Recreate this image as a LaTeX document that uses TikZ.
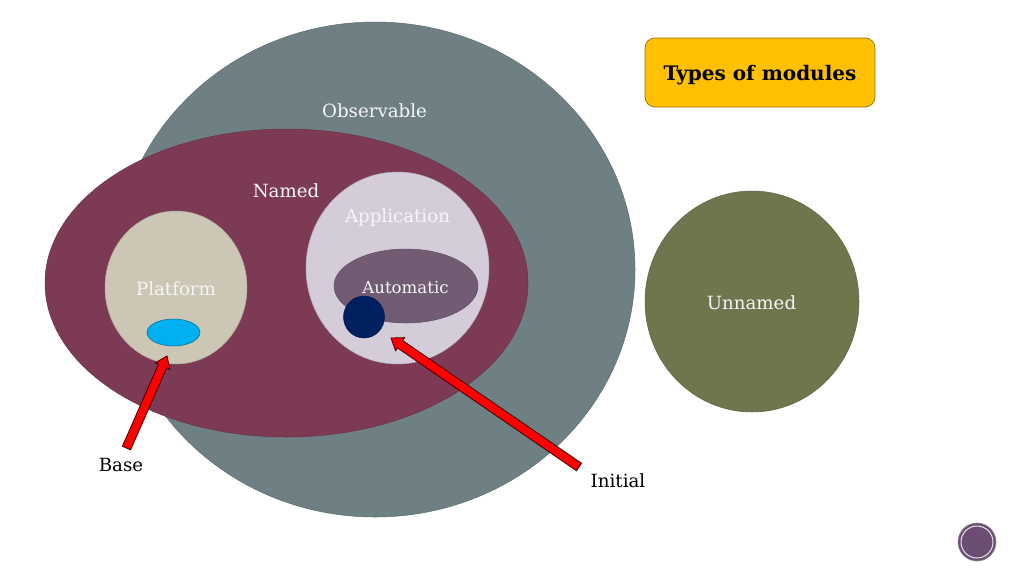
\documentclass[tikz,border=0pt]{standalone}
\usepackage{fontspec}
\setmainfont{DejaVu Serif}
\usetikzlibrary{shapes.geometric,calc}
\definecolor{obscol}{HTML}{6E8083}
\definecolor{namedcol}{HTML}{7C3A55}
\definecolor{platcol}{HTML}{CCC6B5}
\definecolor{bluecol}{HTML}{00B0F0}
\definecolor{appcol}{HTML}{D4CDD9}
\definecolor{autocol}{HTML}{715C74}
\definecolor{navycol}{HTML}{002060}
\definecolor{unnamedcol}{HTML}{6E764E}
\definecolor{boxcol}{HTML}{FFC000}
\definecolor{logocol}{HTML}{6B4E71}
\tikzset{
  blob/.style={ellipse,inner sep=0pt,draw=#1!85!black,line width=.5pt,fill=#1},
  whitelabel/.style={text=white!96!black,font=\fontsize{18.2}{21}\selectfont,inner sep=0pt},
  blacklabel/.style={text=black,font=\fontsize{18.2}{21}\selectfont,inner sep=0pt},
}
\newcommand{\blockarrow}[2]{%
  \filldraw[fill=red,draw=black!75!red,line width=.8pt,line join=miter]
    ($(#1)!4.5pt!90:(#2)$) --
    ($($(#2)!11pt!(#1)$)!4.5pt!90:(#2)$) --
    ($($(#2)!11pt!(#1)$)!8pt!90:(#2)$) --
    (#2) --
    ($($(#2)!11pt!(#1)$)!8pt!-90:(#2)$) --
    ($($(#2)!11pt!(#1)$)!4.5pt!-90:(#2)$) --
    ($(#1)!4.5pt!-90:(#2)$) -- cycle;}
\begin{document}
\begin{tikzpicture}[x=1pt,y=-1pt]
\useasboundingbox (0,0) rectangle (1024,576);
\fill[white] (0,0) rectangle (1024,576);
\node[blob=obscol,minimum width=520pt,minimum height=495pt] (obs) at (375,269.5) {};
\node[blob=namedcol,minimum width=483pt,minimum height=308pt] (named) at (286.5,283) {};
\node[blob=platcol,minimum width=142pt,minimum height=153pt] (plat) at (176,287.5) {};
\node[blob=bluecol,minimum width=53pt,minimum height=27pt,draw=bluecol!60!black] (base) at (173.5,332.5) {};
\node[blob=appcol,minimum width=183pt,minimum height=192pt] (app) at (397.5,268) {};
\node[blob=autocol,minimum width=144pt,minimum height=74pt] (auto) at (406,286) {};
\node[blob=navycol,minimum width=41pt,minimum height=42pt] (init) at (364,317) {};
\node[blob=unnamedcol,minimum width=214pt,minimum height=221pt] (unnamed) at (752,301.5) {};
\node[draw=boxcol!60!black,line width=.7pt,fill=boxcol,rounded corners=10pt,minimum width=230pt,minimum height=69pt,inner sep=0pt] (types) at (760,72.5) {};
\node[inner sep=0pt,font=\fontsize{20}{24}\selectfont\bfseries] (ttypes) at (760,75.5) {Types of modules};
\node[whitelabel] (tobs) at (374.5,111) {Observable};
\node[whitelabel] (tnamed) at (286,191) {Named};
\node[whitelabel] (tapp) at (397.5,217) {Application};
\node[whitelabel] (tplat) at (176,289) {Platform};
\node[whitelabel,font=\fontsize{16.6}{20}\selectfont] (tauto) at (405.5,288) {Automatic};
\node[whitelabel] (tunnamed) at (751.5,303) {Unnamed};
\node[blacklabel] (tbase) at (121,465) {Base};
\node[blacklabel] (tinitial) at (618,481) {Initial};
\coordinate (a1) at (126.5,448);
\coordinate (a2) at (167,356);
\coordinate (b1) at (579,467);
\coordinate (b2) at (391,338);
\blockarrow{a1}{a2}
\blockarrow{b1}{b2}
\node[circle,fill=logocol,draw=logocol!70!white,line width=.6pt,minimum width=38pt,inner sep=0pt] (logo) at (977,542) {};
\node[circle,draw=white!85!logocol,line width=1pt,minimum width=32pt,inner sep=0pt] (logoring) at (977,542) {};
\end{tikzpicture}
\end{document}
